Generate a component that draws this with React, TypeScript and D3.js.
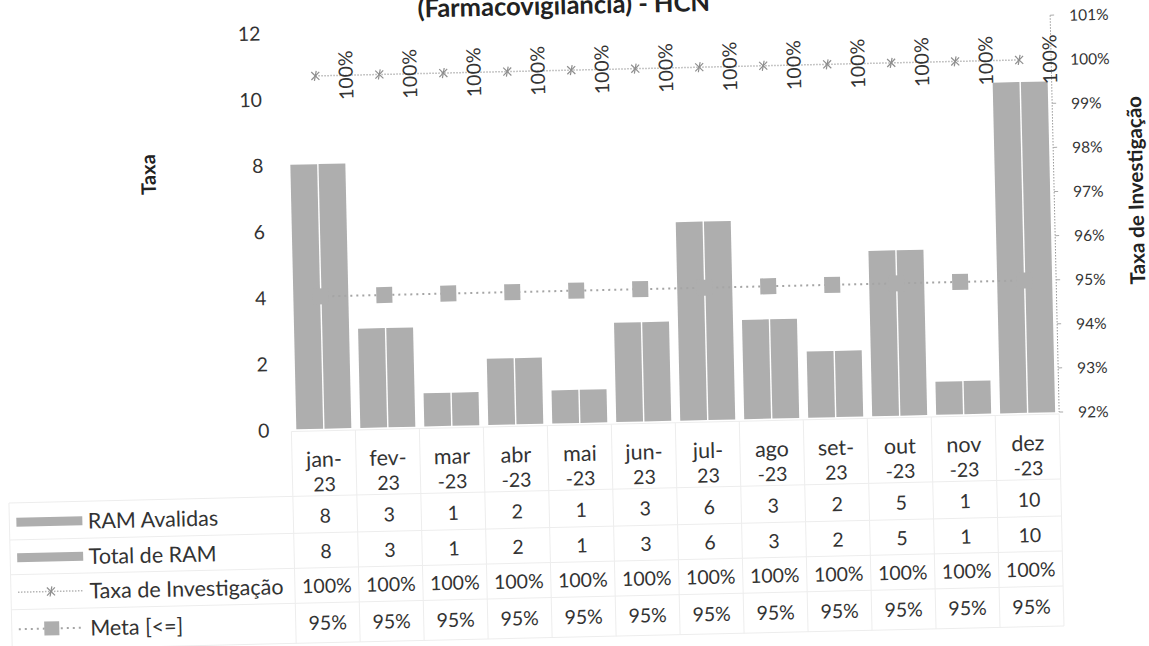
import React from 'react';
import * as d3 from 'd3';

const monthLine1 = ['jan-', 'fev-', 'mar', 'abr', 'mai', 'jun-', 'jul-', 'ago', 'set-', 'out', 'nov', 'dez'];
const monthLine2 = ['23', '23', '-23', '-23', '-23', '23', '23', '-23', '23', '-23', '-23', '-23'];
const months = monthLine1.map((m, i) => m + '|' + monthLine2[i]);
const ramAvalidas = [8, 3, 1, 2, 1, 3, 6, 3, 2, 5, 1, 10];
const totalRam = [8, 3, 1, 2, 1, 3, 6, 3, 2, 5, 1, 10];
const taxaInvestigacao = [1, 1, 1, 1, 1, 1, 1, 1, 1, 1, 1, 1];
const meta = [0.95, 0.95, 0.95, 0.95, 0.95, 0.95, 0.95, 0.95, 0.95, 0.95, 0.95, 0.95];
const leftTicks = [0, 2, 4, 6, 8, 10, 12];
const rightTicks = [0.92, 0.93, 0.94, 0.95, 0.96, 0.97, 0.98, 0.99, 1.0, 1.01];
const seriesNames = ['RAM Avalidas', 'Total de RAM', 'Taxa de Investigação', 'Meta [<=]'];
const titleText = '(Farmacovigilancia) - HCN';
const leftTitle = 'Taxa';
const rightTitle = 'Taxa de Investigação';

const FONT = 'Lato, "Open Sans", sans-serif';
const FS = 19.5;     // numbers
const FSW = 21.5;    // words
const FSR = 15.5;    // right axis ticks
const BAR = '#aeaeae';
const TXT = '#333';

export default function App() {
  const W = 1149, H = 646;
  const plotL = 289, plotR = 1057, plotT = 26, plotB = 423;
  const x = d3.scaleBand<string>().domain(months).range([plotL, plotR]).padding(0);
  const inner = d3.scaleBand<string>().domain(['a', 't']).range([5, x.bandwidth() - 4]).paddingInner(0.05);
  const yL = d3.scaleLinear().domain([0, 12]).range([plotB, plotT]);
  const yR = d3.scaleLinear().domain([0.92, 1.01]).range([plotB, plotT]);
  const cx = (m: string) => (x(m) as number) + x.bandwidth() / 2;
  const pct = d3.format('.0%');

  const taxaLine = d3.line<number>().x((_, i) => cx(months[i])).y((d) => yR(d));
  const metaLine = d3.line<number>().x((_, i) => cx(months[i])).y((d) => yR(d));

  const catY1 = 453, catY2 = 478;
  const rowY = [509.5, 545, 579.5, 616.5];
  const hLines = [490, 527, 562, 597, 637];
  const legendKeyX0 = 12, legendKeyX1 = 78, legendTextX = 83.5;

  const xMark = (px: number, py: number, key: string) => (
    <g key={key} stroke="#8e8e8e" strokeWidth={1.2}>
      <line x1={px - 4} y1={py - 4} x2={px + 4} y2={py + 4} />
      <line x1={px - 4} y1={py + 4} x2={px + 4} y2={py - 4} />
      <line x1={px + 1} y1={py - 5} x2={px - 1} y2={py + 5} />
    </g>
  );

  return (
    <svg width={W} height={H} style={{ position: 'absolute', left: 0, top: 0, background: '#fff' }} fontFamily={FONT}>
      <rect width={W} height={H} fill="#fff" />
      <g transform="rotate(-1.3 575 323)">
        {/* title */}
        <text x={571} y={14} textAnchor="middle" fontSize={25.5} fontWeight="bold" fill="#222">{titleText}</text>

        {/* table grid */}
        <g stroke="#ededed" strokeWidth={1}>
          {hLines.map((hy, i) => <line key={'h' + i} x1={5} x2={plotR} y1={hy} y2={hy} />)}
          <line x1={plotL} x2={plotR} y1={plotB + 2} y2={plotB + 2} />
          {months.map((m, i) => <line key={'v' + i} x1={x(m) as number} x2={x(m) as number} y1={plotB + 2} y2={hLines[hLines.length - 1]} />)}
          <line x1={plotR} x2={plotR} y1={plotB + 2} y2={hLines[hLines.length - 1]} />
          <line x1={5} x2={5} y1={hLines[0]} y2={hLines[hLines.length - 1]} />
        </g>

        {/* left axis */}
        {leftTicks.map((t) => (
          <text key={'l' + t} x={267} y={yL(t)} textAnchor="end" dominantBaseline="central" fontSize={FS} fill={TXT}>{t}</text>
        ))}
        <text transform={`translate(151,165) rotate(-90)`} textAnchor="middle" dominantBaseline="central" fontSize={20} fontWeight="bold" fill="#222">{leftTitle}</text>

        {/* right axis */}
        <line x1={plotR} x2={plotR} y1={plotT} y2={plotB} stroke="#999" strokeWidth={1} strokeDasharray="1.5,1.5" />
        {rightTicks.map((t) => (
          <g key={'r' + t}>
            <line x1={plotR} x2={plotR + 4} y1={yR(t)} y2={yR(t)} stroke="#aaa" strokeWidth={1} />
            <text x={1076} y={yR(t)} textAnchor="start" dominantBaseline="central" fontSize={FSR} fill={TXT}>{pct(t)}</text>
          </g>
        ))}
        <text transform={`translate(1138,203) rotate(-90)`} textAnchor="middle" dominantBaseline="central" fontSize={20.5} fontWeight="bold" fill="#222">{rightTitle}</text>

        {/* bars */}
        {months.map((m, i) => (
          <g key={'b' + i} transform={`translate(${x(m)},0)`}>
            <rect x={inner('a')} y={yL(ramAvalidas[i])} width={inner.bandwidth()} height={yL(0) - yL(ramAvalidas[i])} fill={BAR} />
            <rect x={inner('t')} y={yL(totalRam[i])} width={inner.bandwidth()} height={yL(0) - yL(totalRam[i])} fill={BAR} />
          </g>
        ))}

        {/* meta line */}
        <path d={metaLine(meta) as string} fill="none" stroke="#a5a5a5" strokeWidth={2} strokeDasharray="2,4" />
        {meta.map((v, i) => (
          <rect key={'mm' + i} x={cx(months[i]) - 8} y={yR(v) - 8} width={16} height={16} fill={BAR} />
        ))}

        {/* taxa line */}
        <path d={taxaLine(taxaInvestigacao) as string} fill="none" stroke="#b5b5b5" strokeWidth={1.5} strokeDasharray="1.5,1.5" />
        {taxaInvestigacao.map((v, i) => xMark(cx(months[i]), yR(v), 'tm' + i))}
        {taxaInvestigacao.map((v, i) => (
          <text key={'tl' + i} transform={`translate(${cx(months[i]) + 30},${yR(v)}) rotate(-90)`} textAnchor="middle" dominantBaseline="central" fontSize={FS} fill={TXT}>{pct(v)}</text>
        ))}

        {/* table: categories and values */}
        {months.map((m, i) => (
          <g key={'c' + i}>
            <text x={cx(m)} y={catY1} textAnchor="middle" dominantBaseline="central" fontSize={FSW} fill={TXT}>{monthLine1[i]}</text>
            <text x={cx(m)} y={catY2} textAnchor="middle" dominantBaseline="central" fontSize={FS} fill={TXT}>{monthLine2[i]}</text>
            <text x={cx(m)} y={rowY[0]} textAnchor="middle" dominantBaseline="central" fontSize={FS} fill={TXT}>{ramAvalidas[i]}</text>
            <text x={cx(m)} y={rowY[1]} textAnchor="middle" dominantBaseline="central" fontSize={FS} fill={TXT}>{totalRam[i]}</text>
            <text x={cx(m)} y={rowY[2]} textAnchor="middle" dominantBaseline="central" fontSize={FS} fill={TXT}>{pct(taxaInvestigacao[i])}</text>
            <text x={cx(m)} y={rowY[3]} textAnchor="middle" dominantBaseline="central" fontSize={FS} fill={TXT}>{pct(meta[i])}</text>
          </g>
        ))}

        {/* legend keys */}
        <rect x={legendKeyX0} y={rowY[0] - 4.5} width={legendKeyX1 - legendKeyX0} height={9} fill={BAR} />
        <rect x={legendKeyX0} y={rowY[1] - 4.5} width={legendKeyX1 - legendKeyX0} height={9} fill={BAR} />
        <line x1={legendKeyX0} x2={legendKeyX1} y1={rowY[2]} y2={rowY[2]} stroke="#b5b5b5" strokeWidth={1.5} strokeDasharray="1.5,1.5" />
        {xMark((legendKeyX0 + legendKeyX1) / 2, rowY[2], 'lk')}
        <line x1={legendKeyX0} x2={legendKeyX1} y1={rowY[3]} y2={rowY[3]} stroke="#a5a5a5" strokeWidth={2} strokeDasharray="2,4" />
        <rect x={(legendKeyX0 + legendKeyX1) / 2 - 7.5} y={rowY[3] - 7} width={15} height={14} fill={BAR} />
        {seriesNames.map((s, i) => (
          <text key={'ln' + i} x={legendTextX} y={rowY[i]} dominantBaseline="central" fontSize={FSW} fill={TXT}>{s}</text>
        ))}
      </g>
    </svg>
  );
}
